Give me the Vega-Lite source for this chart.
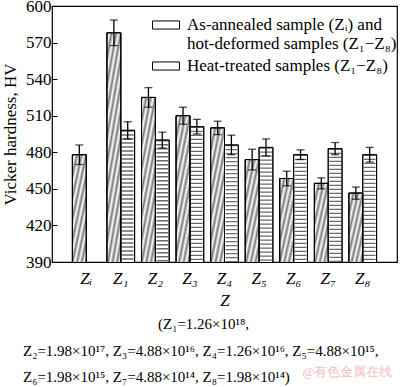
{
  "$schema": "https://vega.github.io/schema/vega-lite/v6.json",
  "width": 345,
  "height": 256,
  "autosize": {"type": "none"},
  "padding": {"left": 52, "top": 6, "right": 3, "bottom": 125},
  "config": {
    "font": "Liberation Serif",
    "view": {"stroke": "black", "strokeWidth": 1.2},
    "axis": {"labelFont": "Liberation Serif", "titleFont": "Liberation Serif", "labelColor": "black", "titleColor": "black", "domain": false, "grid": false, "titleFontWeight": "normal"},
    "axisY": {"labelOverlap": false, "labelBound": false, "labelFontSize": 17, "tickSize": -5, "tickColor": "black", "labelPadding": 6, "tickCount": 8}
  },
  "title": {
    "text": ["\u200b\u00a0\u00a0\u00a0\u00a0\u00a0\u00a0\u00a0\u00a0\u00a0\u00a0\u00a0\u00a0\u00a0\u00a0\u00a0\u00a0\u00a0\u00a0\u00a0\u00a0\u00a0\u00a0\u00a0\u00a0\u00a0\u00a0\u00a0\u00a0\u00a0\u00a0\u00a0\u00a0\u00a0\u00a0\u00a0\u00a0(Z₁=1.26×10¹⁸,", "Z₂=1.98×10¹⁷, Z₃=4.88×10¹⁶, Z₄=1.26×10¹⁶, Z₅=4.88×10¹⁵,", "Z₆=1.98×10¹⁵, Z₇=4.88×10¹⁴, Z₈=1.98×10¹⁴)"],
    "subtitle": "\u200b\u00a0\u00a0\u00a0\u00a0\u00a0\u00a0\u00a0\u00a0\u00a0\u00a0\u00a0\u00a0\u00a0\u00a0\u00a0\u00a0\u00a0\u00a0\u00a0\u00a0\u00a0\u00a0\u00a0\u00a0\u00a0\u00a0\u00a0\u00a0\u00a0\u00a0\u00a0\u00a0\u00a0\u00a0\u00a0\u00a0\u00a0\u00a0\u00a0\u00a0\u00a0\u00a0\u00a0\u00a0\u00a0\u00a0\u00a0\u00a0\u00a0\u00a0\u00a0\u00a0\u00a0\u00a0\u00a0\u00a0\u00a0\u00a0\u00a0\u00a0\u00a0\u00a0\u00a0\u00a0\u00a0\u00a0\u00a0\u00a0\u00a0\u00a0\u00a0\u00a0\u00a0\u00a0\u00a0\u00a0\u00a0\u00a0\u00a0\u00a0\u00a0\u00a0\u00a0\u00a0\u00a0\u00a0@有色金属在线",
    "orient": "bottom",
    "anchor": "start",
    "frame": "group",
    "dx": -29,
    "offset": 9,
    "fontSize": 15,
    "fontWeight": "normal",
    "font": "Liberation Serif",
    "color": "black",
    "lineHeight": 26.5,
    "subtitleFont": "Liberation Serif",
    "subtitleFontSize": 13,
    "subtitleColor": "#f0c0c0",
    "subtitlePadding": -19
  },
  "data": {
    "values": [
      {"cat": "Zᵢ", "series": "A", "v": 478, "lo": 470, "hi": 486},
      {"cat": "Z₁", "series": "A", "v": 578, "lo": 567.5, "hi": 588.5},
      {"cat": "Z₁", "series": "H", "v": 498, "lo": 491, "hi": 505},
      {"cat": "Z₂", "series": "A", "v": 525, "lo": 517, "hi": 533},
      {"cat": "Z₂", "series": "H", "v": 490, "lo": 483.5, "hi": 496.5},
      {"cat": "Z₃", "series": "A", "v": 510, "lo": 503, "hi": 517},
      {"cat": "Z₃", "series": "H", "v": 501, "lo": 495, "hi": 507},
      {"cat": "Z₄", "series": "A", "v": 500, "lo": 494.5, "hi": 505.5},
      {"cat": "Z₄", "series": "H", "v": 486, "lo": 478, "hi": 494},
      {"cat": "Z₅", "series": "A", "v": 474, "lo": 465.5, "hi": 482.5},
      {"cat": "Z₅", "series": "H", "v": 484, "lo": 477, "hi": 491},
      {"cat": "Z₆", "series": "A", "v": 458.5, "lo": 452.5, "hi": 464.5},
      {"cat": "Z₆", "series": "H", "v": 478, "lo": 474, "hi": 482},
      {"cat": "Z₇", "series": "A", "v": 454.5, "lo": 450, "hi": 459},
      {"cat": "Z₇", "series": "H", "v": 483, "lo": 478, "hi": 488},
      {"cat": "Z₈", "series": "A", "v": 446.5, "lo": 441.5, "hi": 451.5},
      {"cat": "Z₈", "series": "H", "v": 478, "lo": 472, "hi": 484}
    ]
  },
  "encoding": {
    "x": {
      "field": "cat", "type": "nominal",
      "sort": ["Zᵢ", "Z₁", "Z₂", "Z₃", "Z₄", "Z₅", "Z₆", "Z₇", "Z₈"],
      "scale": {"paddingInner": 0.2, "paddingOuter": 0.59},
      "axis": {"title": "Z", "titleFontStyle": "italic", "titleFontSize": 17, "titlePadding": 6, "labelAngle": 0, "labelFontSize": 17, "labelFontStyle": "italic", "labelPadding": 8, "ticks": false}
    },
    "xOffset": {"field": "series", "type": "nominal", "scale": {"domain": ["A", "H"]}}
  },
  "layer": [
    {
      "mark": {"type": "bar", "stroke": "black", "strokeWidth": 1, "clip": true},
      "encoding": {
        "y": {"field": "v", "type": "quantitative",
          "scale": {"domain": [390, 600], "nice": false, "zero": false},
          "axis": {"title": "Vicker hardness, HV", "titleFontSize": 17, "titlePadding": 6, "labelOverlap": false, "tickCount": 8, "labelPadding": 6, "values": [390, 420, 450, 480, 510, 540, 570, 600]}},
        "color": {"field": "series", "type": "nominal",
          "scale": {"domain": ["A", "H"], "range": ["#ffffff", "#ffffff"]},
          "legend": {"orient": "none", "legendX": 100, "legendY": 5, "title": null, "padding": 0, "labelFontSize": 17, "labelFont": "Liberation Serif", "labelColor": "black", "labelLimit": 400, "symbolType": "M-1,-0.3H1V0.3H-1Z", "symbolSize": 729, "symbolStrokeColor": "black", "symbolStrokeWidth": 1, "symbolOpacity": 1, "rowPadding": -3, "labelOffset": 7,
            "labelExpr": "datum.value == 'A' ? ['As-annealed sample (Zᵢ) and', 'hot-deformed samples (Z₁−Z₈)'] : 'Heat-treated samples (Z₁−Z₈)'",
            "encode": {"symbols": {"update": {"stroke": {"value": "black"}, "strokeWidth": {"value": 1}, "fill": {"signal": "datum.value == 'A' ? {gradient: 'linear', x1: 0, y1: 0, x2: 1.192, y2: 0.353, stops: [{offset: 0, color: '#666'}, {offset: 0.0625, color: '#fff'}, {offset: 0.125, color: '#666'}, {offset: 0.1875, color: '#fff'}, {offset: 0.25, color: '#666'}, {offset: 0.3125, color: '#fff'}, {offset: 0.375, color: '#666'}, {offset: 0.4375, color: '#fff'}, {offset: 0.5, color: '#666'}, {offset: 0.5625, color: '#fff'}, {offset: 0.625, color: '#666'}, {offset: 0.6875, color: '#fff'}, {offset: 0.75, color: '#666'}, {offset: 0.8125, color: '#fff'}, {offset: 0.875, color: '#666'}, {offset: 0.9375, color: '#fff'}, {offset: 1, color: '#666'}]} : {gradient: 'linear', x1: 0, y1: 0, x2: 0, y2: 1, stops: [{offset: 0, color: '#fff'}, {offset: 0.17, color: '#666'}, {offset: 0.33, color: '#fff'}, {offset: 0.5, color: '#666'}, {offset: 0.67, color: '#fff'}, {offset: 0.83, color: '#666'}, {offset: 1, color: '#fff'}]}"}}}}
          }
        }
      }
    },
    {
      "transform": [{"filter": "datum.series == 'A'"}],
      "mark": {"type": "bar", "stroke": "black", "strokeWidth": 1, "clip": true,
        "fill": {"gradient": "linear", "x1": 0, "y1": 0, "x2": 0.122, "y2": 1.098, "stops": [
          {"offset": 0, "color": "#7a7a7a"}, {"offset": 0.0167, "color": "#fff"}, {"offset": 0.0333, "color": "#7a7a7a"}, {"offset": 0.05, "color": "#fff"},
          {"offset": 0.0667, "color": "#7a7a7a"}, {"offset": 0.0833, "color": "#fff"}, {"offset": 0.1, "color": "#7a7a7a"}, {"offset": 0.1167, "color": "#fff"},
          {"offset": 0.1333, "color": "#7a7a7a"}, {"offset": 0.15, "color": "#fff"}, {"offset": 0.1667, "color": "#7a7a7a"}, {"offset": 0.1833, "color": "#fff"},
          {"offset": 0.2, "color": "#7a7a7a"}, {"offset": 0.2167, "color": "#fff"}, {"offset": 0.2333, "color": "#7a7a7a"}, {"offset": 0.25, "color": "#fff"},
          {"offset": 0.2667, "color": "#7a7a7a"}, {"offset": 0.2833, "color": "#fff"}, {"offset": 0.3, "color": "#7a7a7a"}, {"offset": 0.3167, "color": "#fff"},
          {"offset": 0.3333, "color": "#7a7a7a"}, {"offset": 0.35, "color": "#fff"}, {"offset": 0.3667, "color": "#7a7a7a"}, {"offset": 0.3833, "color": "#fff"},
          {"offset": 0.4, "color": "#7a7a7a"}, {"offset": 0.4167, "color": "#fff"}, {"offset": 0.4333, "color": "#7a7a7a"}, {"offset": 0.45, "color": "#fff"},
          {"offset": 0.4667, "color": "#7a7a7a"}, {"offset": 0.4833, "color": "#fff"}, {"offset": 0.5, "color": "#7a7a7a"}, {"offset": 0.5167, "color": "#fff"},
          {"offset": 0.5333, "color": "#7a7a7a"}, {"offset": 0.55, "color": "#fff"}, {"offset": 0.5667, "color": "#7a7a7a"}, {"offset": 0.5833, "color": "#fff"},
          {"offset": 0.6, "color": "#7a7a7a"}, {"offset": 0.6167, "color": "#fff"}, {"offset": 0.6333, "color": "#7a7a7a"}, {"offset": 0.65, "color": "#fff"},
          {"offset": 0.6667, "color": "#7a7a7a"}, {"offset": 0.6833, "color": "#fff"}, {"offset": 0.7, "color": "#7a7a7a"}, {"offset": 0.7167, "color": "#fff"},
          {"offset": 0.7333, "color": "#7a7a7a"}, {"offset": 0.75, "color": "#fff"}, {"offset": 0.7667, "color": "#7a7a7a"}, {"offset": 0.7833, "color": "#fff"},
          {"offset": 0.8, "color": "#7a7a7a"}, {"offset": 0.8167, "color": "#fff"}, {"offset": 0.8333, "color": "#7a7a7a"}, {"offset": 0.85, "color": "#fff"},
          {"offset": 0.8667, "color": "#7a7a7a"}, {"offset": 0.8833, "color": "#fff"}, {"offset": 0.9, "color": "#7a7a7a"}, {"offset": 0.9167, "color": "#fff"},
          {"offset": 0.9333, "color": "#7a7a7a"}, {"offset": 0.95, "color": "#fff"}, {"offset": 0.9667, "color": "#7a7a7a"}, {"offset": 0.9833, "color": "#fff"},
          {"offset": 1, "color": "#7a7a7a"}
        ]}},
      "encoding": {"y": {"field": "v", "type": "quantitative"}}
    },
    {
      "transform": [{"filter": "datum.series == 'H'"}],
      "mark": {"type": "rule", "color": "#6a6a6a", "strokeWidth": 11.8, "strokeDash": [1.4, 2.6], "strokeCap": "butt", "clip": true},
      "encoding": {"y": {"field": "v", "type": "quantitative"}, "y2": {"datum": 390}}
    },
    {
      "mark": {"type": "bar", "fillOpacity": 0, "stroke": "black", "strokeWidth": 1, "clip": true},
      "encoding": {"y": {"field": "v", "type": "quantitative"}}
    },
    {
      "mark": {"type": "rule", "color": "black", "strokeWidth": 1.3},
      "encoding": {"y": {"field": "lo", "type": "quantitative"}, "y2": {"field": "hi"}}
    },
    {
      "mark": {"type": "tick", "color": "black", "size": 8, "thickness": 1.3, "orient": "horizontal"},
      "encoding": {"y": {"field": "lo", "type": "quantitative"}}
    },
    {
      "mark": {"type": "tick", "color": "black", "size": 8, "thickness": 1.3, "orient": "horizontal"},
      "encoding": {"y": {"field": "hi", "type": "quantitative"}}
    }
  ]
}
